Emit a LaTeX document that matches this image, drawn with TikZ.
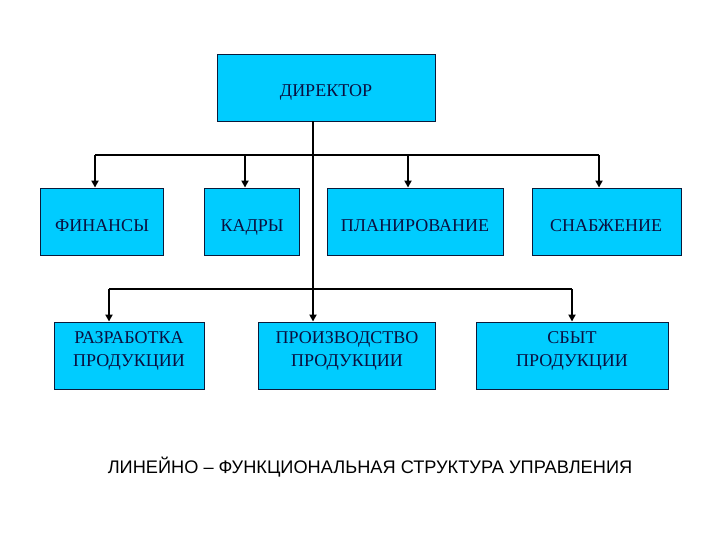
\documentclass[tikz,border=0pt]{standalone}
\usepackage{fontspec}
\setmainfont{Liberation Serif}
\newfontfamily\capfont{Liberation Sans}
\usetikzlibrary{arrows.meta}
\definecolor{boxfill}{HTML}{00CCFF}
\definecolor{boxline}{HTML}{0A1A3A}
\definecolor{boxtext}{HTML}{0A1040}
\tikzset{
  unitbox/.style={draw=boxline, line width=0.9pt, fill=boxfill, inner sep=0pt, minimum height=67pt},
  boxlabel/.style={text=boxtext, font=\fontsize{18}{23}\selectfont, align=center, inner sep=0pt},
  onelabel/.style={boxlabel, anchor=base},
  busline/.style={line width=1.4pt, black},
  arrline/.style={line width=1.9pt, black, -{Triangle[length=7pt,width=7pt]}},
  trunkline/.style={line width=2.4pt, black, -{Triangle[length=7pt,width=7pt]}},
}
\begin{document}
\begin{tikzpicture}[x=1pt,y=1pt]
\useasboundingbox (0,0) rectangle (720,-540);
% boxes
\node[unitbox, minimum width=218pt] (dir) at (326,-87.5) {};
\node[onelabel] (dirt) at (326,-97) {ДИРЕКТОР};
\node[unitbox, minimum width=123pt] (fin) at (101.5,-221.5) {};
\node[onelabel] (fint) at (102,-231.5) {ФИНАНСЫ};
\node[unitbox, minimum width=95pt] (kad) at (251.5,-221.5) {};
\node[onelabel] (kadt) at (252,-231.5) {КАДРЫ};
\node[unitbox, minimum width=176pt] (plan) at (415,-221.5) {};
\node[onelabel] (plant) at (415,-231.5) {ПЛАНИРОВАНИЕ};
\node[unitbox, minimum width=149pt] (snab) at (606.5,-221.5) {};
\node[onelabel] (snabt) at (606,-231.5) {СНАБЖЕНИЕ};
\node[unitbox, minimum width=150pt] (razr) at (129,-355.5) {};
\node[boxlabel] (razrt) at (129,-351) {РАЗРАБОТКА\\ПРОДУКЦИИ};
\node[unitbox, minimum width=177pt] (proiz) at (346.5,-355.5) {};
\node[boxlabel] (proizt) at (347,-351) {ПРОИЗВОДСТВО\\ПРОДУКЦИИ};
\node[unitbox, minimum width=192pt] (sbyt) at (572,-355.5) {};
\node[boxlabel] (sbytt) at (572,-351) {СБЫТ\\ПРОДУКЦИИ};
% bus coordinates
\coordinate (tx) at (313,-155);
\coordinate (a1) at (95,-155);
\coordinate (a2) at (245,-155);
\coordinate (a3) at (408,-155);
\coordinate (a4) at (599,-155);
\coordinate (b1) at (109,-289);
\coordinate (b3) at (572,-289);
% trunk
\draw[trunkline] (dir.south -| tx) -- (proiz.north -| tx);
% top bus
\draw[busline] (a1) -- (a4);
\draw[arrline] (a1) -- (a1 |- fin.north);
\draw[arrline] (a2) -- (a2 |- kad.north);
\draw[arrline] (a3) -- (a3 |- plan.north);
\draw[arrline] (a4) -- (a4 |- snab.north);
% bottom bus
\draw[busline] (b1) -- (b3);
\draw[arrline] (b1) -- (b1 |- razr.north);
\draw[arrline] (b3) -- (b3 |- sbyt.north);
% caption
\node[font=\capfont\fontsize{18.2}{21}\selectfont, inner sep=0pt] (cap) at (370,-467) {ЛИНЕЙНО – ФУНКЦИОНАЛЬНАЯ СТРУКТУРА УПРАВЛЕНИЯ};
\end{tikzpicture}
\end{document}
